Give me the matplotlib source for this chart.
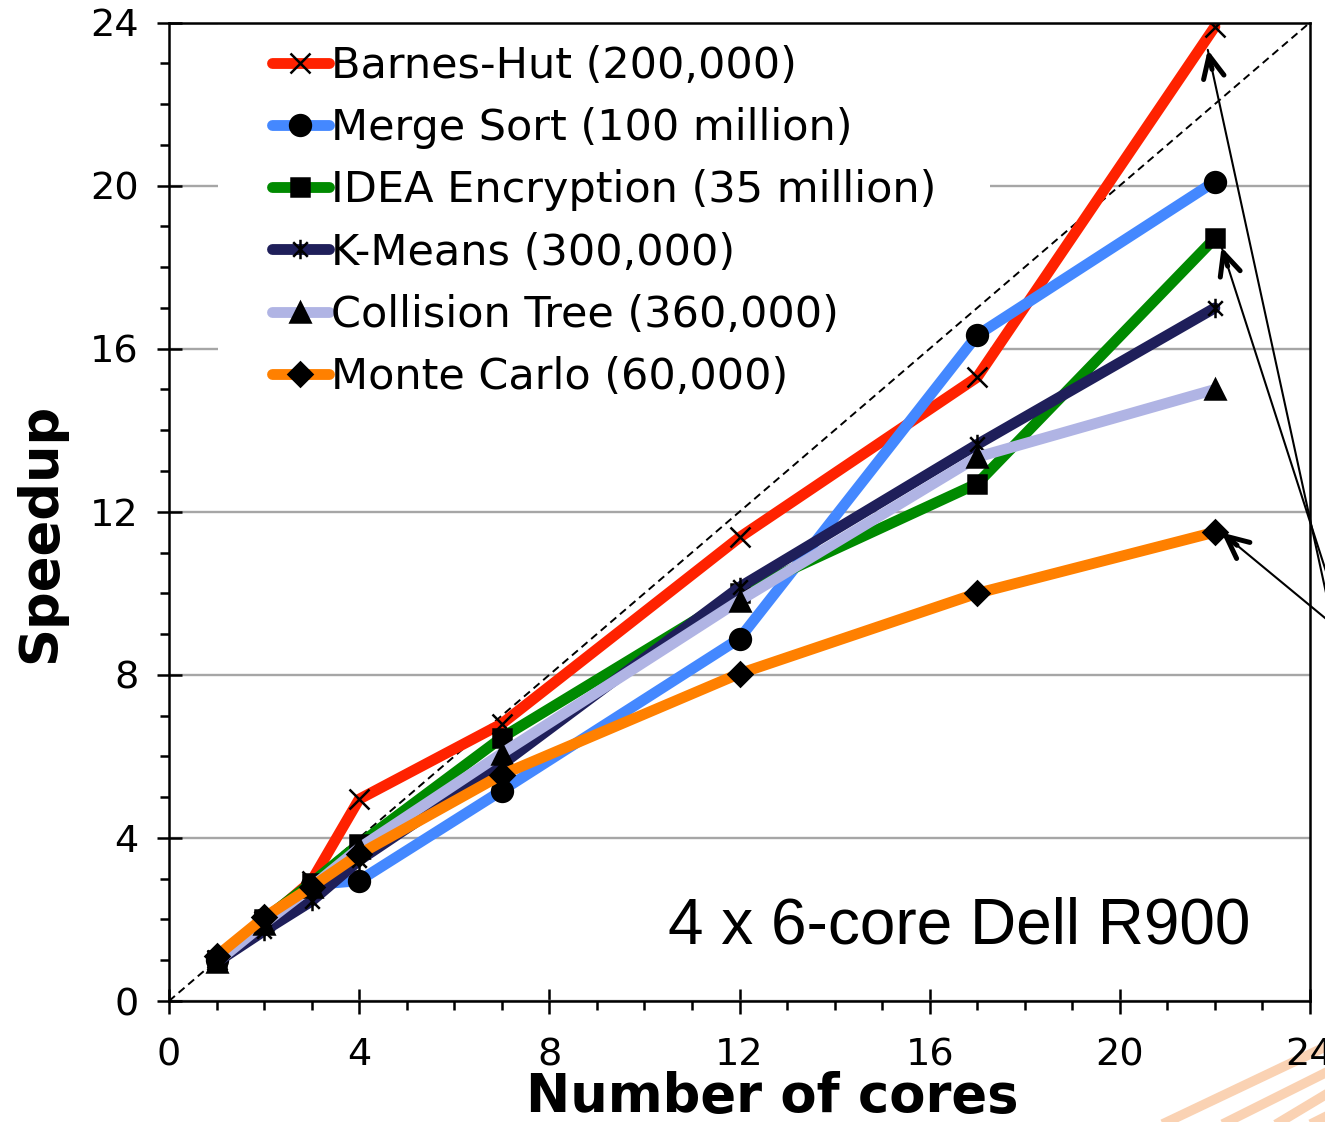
import matplotlib
matplotlib.use("Agg")
import matplotlib.pyplot as plt
from matplotlib.path import Path
from matplotlib.lines import Line2D
import numpy as np

# ---- data ----
cores = [1, 2, 3, 4, 7, 12, 17, 22]
series_names = ["Barnes-Hut (200,000)", "Merge Sort (100 million)", "IDEA Encryption (35 million)",
                "K-Means (300,000)", "Collision Tree (360,000)", "Monte Carlo (60,000)"]
barnes_hut = [1.0, 1.95, 2.95, 4.95, 6.8, 11.37, 15.3, 23.9]
merge_sort = [1.0, 2.0, 2.85, 2.95, 5.16, 8.89, 16.33, 20.1]
idea_enc = [1.0, 2.0, 2.9, 3.85, 6.46, 10.0, 12.69, 18.71]
k_means = [0.95, 1.72, 2.45, 3.45, 5.8, 10.15, 13.65, 17.0]
collision = [0.95, 1.9, 2.8, 3.75, 6.07, 9.82, 13.34, 15.0]
monte_carlo = [1.1, 2.05, 2.8, 3.6, 5.55, 8.03, 10.0, 11.5]
x_ticks = [0, 4, 8, 12, 16, 20, 24]
y_ticks = [0, 4, 8, 12, 16, 20, 24]
annot_targets_x = [21.85, 22.14, 22.14]
annot_targets_y = [23.33, 18.49, 11.49]

colors = ["#ff2200", "#4488ff", "#008a00", "#1f1f5a", "#b0b4e4", "#ff8000"]

# asterisk marker (x with vertical bar)
ast = Path([(0, -1), (0, 1), (-0.75, -0.75), (0.75, 0.75), (-0.75, 0.75), (0.75, -0.75)],
           [Path.MOVETO, Path.LINETO, Path.MOVETO, Path.LINETO, Path.MOVETO, Path.LINETO])

markers = ["x", "o", "s", ast, "^", "D"]
msizes = [14, 15, 12.5, 14, 14, 12]
data = [barnes_hut, merge_sort, idea_enc, k_means, collision, monte_carlo]

W, H = 1325, 1122
fig = plt.figure(figsize=(W / 100, H / 100), dpi=100)
ax = fig.add_axes([169 / W, (H - 1001) / H, (1310 - 169) / W, (1001 - 22.5) / H])
ax.set_axisbelow(True)

# ideal line
ax.plot([0, 24], [0, 24], ls=(0, (4, 2.5)), color="black", lw=1.4, zorder=1.8)

for i, (name, vals) in enumerate(zip(series_names, data)):
    ax.plot(cores, vals, color=colors[i], lw=7.8, marker=markers[i], ms=msizes[i],
            mfc="black", mec="black", mew=1.8, label=name, zorder=2 + i * 0.1,
            solid_capstyle="round", solid_joinstyle="round")

ax.set_xlim(0, 24)
ax.set_ylim(0, 24)
ax.set_xticks(x_ticks)
ax.set_yticks(y_ticks)
ax.set_xticks(np.arange(0, 25, 1), minor=True)
ax.set_yticks(np.arange(0, 25, 1), minor=True)
ax.tick_params(which="major", direction="inout", length=18, width=1.8, labelsize=27.5)
ax.tick_params(axis="y", which="major", pad=13)
ax.tick_params(axis="x", which="major", pad=17)
ax.tick_params(which="minor", direction="out", length=6.5, width=1.8)
for sp in ax.spines.values():
    sp.set_linewidth(1.8)
ax.yaxis.grid(True, which="major", color="#a6a6a6", lw=1.7)

leg = ax.legend(loc="upper left", bbox_to_anchor=(218 / W, 1.008), bbox_transform=fig.transFigure,
                fontsize=31, frameon=True, facecolor="white", edgecolor="none", framealpha=1,
                fancybox=False, handlelength=1.33, handletextpad=0.05, labelspacing=0.47,
                borderpad=1.25, borderaxespad=0)
leg.set_zorder(1.5)

ax.text(668 / W, (H - 943) / H, "4 x 6-core Dell R900", transform=fig.transFigure,
        fontsize=46, family="Liberation Sans", ha="left", va="baseline")

fig.text(40 / W, 1 - 533 / H, "Speedup", rotation=90, fontsize=38, fontweight="bold",
         ha="center", va="center")
fig.text(772 / W, 1 - 1097 / H, "Number of cores", fontsize=38, fontweight="bold",
         ha="center", va="center")

# arrows from offscreen callout
tails = [(1345, 680), (1361, 680), (1365, 651)]
for (tx, ty), hx, hy in zip(tails, annot_targets_x, annot_targets_y):
    ax.annotate("", xy=(hx, hy), xytext=(tx, H - ty), textcoords="figure pixels",
                arrowprops=dict(arrowstyle="-", lw=1.5, color="black", shrinkA=0, shrinkB=0),
                annotation_clip=False)
    hpx = ax.transData.transform((hx, hy))
    d = np.array([tx, H - ty]) - hpx
    d = d / np.hypot(*d)
    off = d * 20 * 0.72  # points
    ax.annotate("", xy=(hx, hy), xytext=(off[0], off[1]), textcoords="offset points",
                arrowprops=dict(arrowstyle="->,head_length=1.6,head_width=0.75", lw=3.6,
                                color="black", shrinkA=0, shrinkB=0),
                annotation_clip=False)

# decorative stripes bottom-right
stripes = [((1167, 1122), (1325, 1047)), ((1227, 1122), (1325, 1073)),
           ((1280, 1122), (1325, 1095)), ((1315, 1122), (1325, 1117))]
for (x0, y0), (x1, y1) in stripes:
    fig.add_artist(Line2D([x0 / W, x1 / W], [1 - y0 / H, 1 - y1 / H], transform=fig.transFigure,
                          color="#f9c7a0", lw=7, alpha=0.8, zorder=0))

fig.savefig("out.png", dpi=100)
